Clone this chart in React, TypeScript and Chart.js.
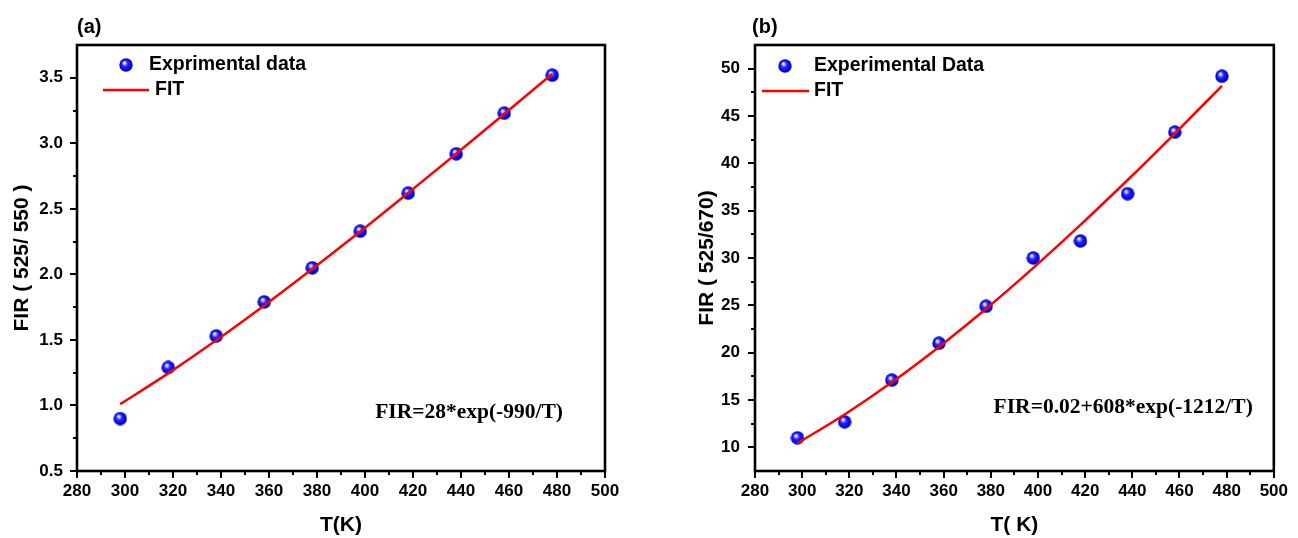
import React, { useEffect, useRef } from 'react';
import { Chart, registerables } from 'chart.js';

Chart.register(...registerables);

// ---------- data ----------
const T_VALUES = [298, 318, 338, 358, 378, 398, 418, 438, 458, 478];
const FIR_A_DATA = [0.9, 1.29, 1.53, 1.79, 2.05, 2.33, 2.62, 2.92, 3.23, 3.52];
const FIR_A_FIT = [1.01, 1.245, 1.497, 1.763, 2.041, 2.327, 2.622, 2.921, 3.224, 3.529];
const FIR_B_DATA = [11.0, 12.7, 17.1, 21.0, 24.9, 30.0, 31.8, 36.8, 43.3, 49.2];
const FIR_B_FIT = [10.43, 13.47, 16.87, 20.61, 24.64, 28.96, 33.5, 38.24, 43.15, 48.19];

const X_TICKS = [280, 300, 320, 340, 360, 380, 400, 420, 440, 460, 480, 500];
const X_MINOR = [290, 310, 330, 350, 370, 390, 410, 430, 450, 470, 490];
const Y_TICKS_A = [0.5, 1.0, 1.5, 2.0, 2.5, 3.0, 3.5];
const Y_MINOR_A = [0.75, 1.25, 1.75, 2.25, 2.75, 3.25];
const Y_TICKS_B = [10, 15, 20, 25, 30, 35, 40, 45, 50];
const Y_MINOR_B = [12.5, 17.5, 22.5, 27.5, 32.5, 37.5, 42.5, 47.5];

const LABEL_A = '(a)';
const LABEL_B = '(b)';
const EXP_LABEL_A = 'Exprimental data';
const EXP_LABEL_B = 'Experimental Data';
const FIT_LABEL = 'FIT';
const EQ_A = 'FIR=28*exp(-990/T)';
const EQ_B = 'FIR=0.02+608*exp(-1212/T)';
const XTITLE_A = 'T(K)';
const XTITLE_B = 'T( K)';
const YTITLE_A = 'FIR ( 525/ 550 )';
const YTITLE_B = 'FIR ( 525/670)';

const SANS = '"Liberation Sans", Arial, Helvetica, sans-serif';
const SERIF = '"Liberation Serif", "Times New Roman", serif';

function makeSphere(size: number): HTMLCanvasElement {
  const c = document.createElement('canvas');
  c.width = size;
  c.height = size;
  const g = c.getContext('2d')!;
  const r = size / 2;
  const grad = g.createRadialGradient(r - 1.8, r - 2.4, 0.3, r, r, r);
  grad.addColorStop(0, '#ffffff');
  grad.addColorStop(0.16, '#b8b8ff');
  grad.addColorStop(0.38, '#2a2aff');
  grad.addColorStop(0.8, '#0000e6');
  grad.addColorStop(1, '#00009c');
  g.fillStyle = grad;
  g.beginPath();
  g.arc(r, r, r - 0.3, 0, Math.PI * 2);
  g.fill();
  return c;
}

interface PanelCfg {
  data: number[];
  fit: number[];
  yMin: number;
  yMax: number;
  yTicks: number[];
  yMinor: number[];
  decimals: number;
  label: string;
  expLabel: string;
  eq: string;
  xTitle: string;
  yTitle: string;
  leftWidth: number;
  rightPad: number;
  yTitlePad: number;
  yTickPad: number;
  legend: { mx: number; my: number; tx: number; lx0: number; lx1: number; ly: number; ftx: number };
  eqRight: number;
  eqY: number;
  labelX: number;
}

const PANEL_A: PanelCfg = {
  data: FIR_A_DATA,
  fit: FIR_A_FIT,
  yMin: 0.5,
  yMax: 3.75,
  yTicks: Y_TICKS_A,
  yMinor: Y_MINOR_A,
  decimals: 1,
  label: LABEL_A,
  expLabel: EXP_LABEL_A,
  eq: EQ_A,
  xTitle: XTITLE_A,
  yTitle: YTITLE_A,
  leftWidth: 77,
  rightPad: 44,
  yTitlePad: 10,
  yTickPad: 14,
  legend: { mx: 49, my: 20, tx: 72, lx0: 26, lx1: 72, ly: 45, ftx: 78 },
  eqRight: 42,
  eqY: 412,
  labelX: 77,
};

const PANEL_B: PanelCfg = {
  data: FIR_B_DATA,
  fit: FIR_B_FIT,
  yMin: 7.5,
  yMax: 52.5,
  yTicks: Y_TICKS_B,
  yMinor: Y_MINOR_B,
  decimals: 0,
  label: LABEL_B,
  expLabel: EXP_LABEL_B,
  eq: EQ_B,
  xTitle: XTITLE_B,
  yTitle: YTITLE_B,
  leftWidth: 106,
  rightPad: 15,
  yTitlePad: 46,
  yTickPad: 15,
  legend: { mx: 30, my: 21, tx: 59, lx0: 7, lx1: 54, ly: 46, ftx: 59 },
  eqRight: 21,
  eqY: 407,
  labelX: 103,
};

function Panel({ cfg }: { cfg: PanelCfg }) {
  const ref = useRef<HTMLCanvasElement | null>(null);
  useEffect(() => {
    const canvas = ref.current;
    if (!canvas) return;
    const sphere = makeSphere(14);

    const decor = {
      id: 'decor',
      afterDraw(chart: any) {
        const { ctx, chartArea } = chart;
        const { left, right, top, bottom } = chartArea;
        const xs = chart.scales.x;
        const ys = chart.scales.y;
        ctx.save();
        // frame
        ctx.strokeStyle = '#000';
        ctx.lineWidth = 2.6;
        ctx.strokeRect(left, top, right - left, bottom - top);
        // ticks
        ctx.lineWidth = 2;
        ctx.beginPath();
        X_TICKS.forEach((v) => {
          const p = Math.round(xs.getPixelForValue(v));
          ctx.moveTo(p, bottom);
          ctx.lineTo(p, bottom + 7);
        });
        X_MINOR.forEach((v) => {
          const p = Math.round(xs.getPixelForValue(v));
          ctx.moveTo(p, bottom);
          ctx.lineTo(p, bottom + 4);
        });
        cfg.yTicks.forEach((v) => {
          const p = Math.round(ys.getPixelForValue(v));
          ctx.moveTo(left, p);
          ctx.lineTo(left - 7, p);
        });
        cfg.yMinor.forEach((v) => {
          const p = Math.round(ys.getPixelForValue(v));
          ctx.moveTo(left, p);
          ctx.lineTo(left - 4, p);
        });
        ctx.stroke();

        // panel label
        ctx.fillStyle = '#000';
        ctx.font = `bold 20px ${SANS}`;
        ctx.textAlign = 'left';
        ctx.textBaseline = 'middle';
        ctx.fillText(cfg.label, cfg.labelX, 27);

        // legend
        const L = cfg.legend;
        const ds = chart.data.datasets;
        ctx.drawImage(sphere, left + L.mx - 7, top + L.my - 7, 14, 14);
        ctx.font = `bold 19.5px ${SANS}`;
        ctx.fillText(ds[1].label, left + L.tx, top + L.my);
        ctx.strokeStyle = '#ff0000';
        ctx.lineWidth = 2.5;
        ctx.beginPath();
        ctx.moveTo(left + L.lx0, top + L.ly);
        ctx.lineTo(left + L.lx1, top + L.ly);
        ctx.stroke();
        ctx.fillStyle = '#000';
        ctx.fillText(ds[0].label, left + L.ftx, top + L.ly);

        // equation
        ctx.font = `bold 21.5px ${SERIF}`;
        ctx.textAlign = 'right';
        ctx.fillText(cfg.eq, right - cfg.eqRight, cfg.eqY);
        ctx.restore();
      },
    };

    const chart = new Chart(canvas, {
      type: 'line',
      data: {
        datasets: [
          {
            type: 'line',
            label: FIT_LABEL,
            data: T_VALUES.map((t, i) => ({ x: t, y: cfg.fit[i] })),
            borderColor: '#ff0000',
            borderWidth: 2.5,
            pointRadius: 0,
            cubicInterpolationMode: 'monotone',
            fill: false,
            order: 0,
          } as any,
          {
            type: 'scatter',
            label: cfg.expLabel,
            data: T_VALUES.map((t, i) => ({ x: t, y: cfg.data[i] })),
            pointStyle: sphere,
            pointRadius: 7,
            showLine: false,
            clip: false,
            order: 1,
          } as any,
        ],
      },
      options: {
        animation: false,
        responsive: false,
        devicePixelRatio: 1,
        layout: { padding: { top: 45, right: cfg.rightPad, left: 0, bottom: 0 } },
        plugins: {
          legend: { display: false },
          tooltip: { enabled: false },
          title: { display: false },
        },
        scales: {
          x: {
            type: 'linear',
            min: 280,
            max: 500,
            afterBuildTicks: (s: any) => {
              s.ticks = X_TICKS.map((v) => ({ value: v }));
            },
            afterFit: (s: any) => {
              s.height = 67;
            },
            grid: { display: false, drawTicks: false },
            border: { display: false },
            ticks: {
              padding: 10,
              color: '#000',
              font: { family: SANS, size: 17, weight: 'bold' },
              maxRotation: 0,
              autoSkip: false,
            },
            title: {
              display: true,
              text: cfg.xTitle,
              color: '#000',
              font: { family: SANS, size: 21, weight: 'bold' },
              padding: { top: 0, bottom: 0 },
            },
          },
          y: {
            type: 'linear',
            min: cfg.yMin,
            max: cfg.yMax,
            afterBuildTicks: (s: any) => {
              s.ticks = cfg.yTicks.map((v) => ({ value: v }));
            },
            afterFit: (s: any) => {
              s.width = cfg.leftWidth;
            },
            grid: { display: false, drawTicks: false },
            border: { display: false },
            ticks: {
              padding: cfg.yTickPad,
              color: '#000',
              font: { family: SANS, size: 17, weight: 'bold' },
              autoSkip: false,
              callback: (v: any) => Number(v).toFixed(cfg.decimals),
            },
            title: {
              display: true,
              text: cfg.yTitle,
              color: '#000',
              font: { family: SANS, size: 21, weight: 'bold' },
              padding: { top: cfg.yTitlePad, bottom: 0 },
            },
          },
        },
      } as any,
      plugins: [decor],
    });
    return () => chart.destroy();
  }, [cfg]);
  return <canvas ref={ref} width={649} height={538} style={{ display: 'block', width: 649, height: 538 }} />;
}

export default function App() {
  useEffect(() => {
    document.body.style.margin = '0';
  }, []);
  return (
    <div style={{ display: 'flex', width: 1298, height: 538, background: '#fff' }}>
      <Panel cfg={PANEL_A} />
      <Panel cfg={PANEL_B} />
    </div>
  );
}
